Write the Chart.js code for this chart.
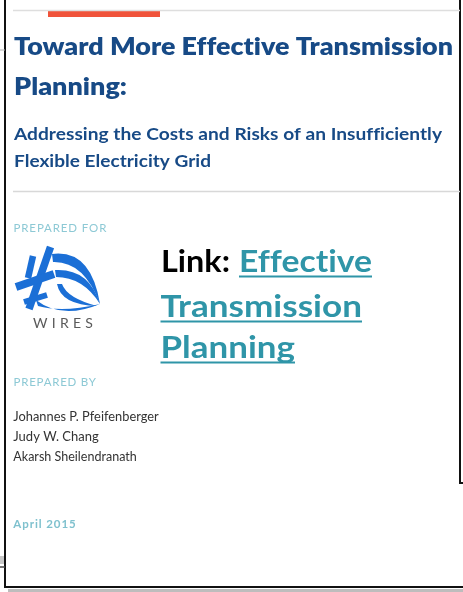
<!DOCTYPE html>
<html>
<head>
<meta charset="utf-8">
<script src="https://cdn.jsdelivr.net/npm/chart.js@4.4.1/dist/chart.umd.min.js"></script>
<style>
  html, body { margin: 0; padding: 0; background: #fff; }
  canvas { display: block; }
</style>
</head>
<body>
<canvas id="cover" width="463" height="592"></canvas>
<script>
// text content of the cover
const titleLines = ["Toward More Effective Transmission", "Planning:"];
const subtitleLines = ["Addressing the Costs and Risks of an Insufficiently", "Flexible Electricity Grid"];
const preparedFor = "PREPARED FOR";
const preparedBy = "PREPARED BY";
const clientName = "WIRES";
const linkLabel = "Link:";
const linkLines = ["Effective", "Transmission", "Planning"];
const authors = ["Johannes P. Pfeifenberger", "Judy W. Chang", "Akarsh Sheilendranath"];
const dateLabel = "April 2015";

const BLUE = "#174a86";
const TEAL = "#2f95a8";
const LIGHT_TEAL = "#8dc9d5";

// page frame + rules, as line datasets on a page-sized linear scale
const seg = (x1, y1, x2, y2) => [{ x: x1, y: y1 }, { x: x2, y: y2 }];
const frameSets = [
  { data: seg(13, 10.5, 460, 10.5), borderColor: "#dedede", borderWidth: 1.5 },
  { data: seg(48, 14, 160, 14), borderColor: "#f0533a", borderWidth: 6 },
  { data: seg(13, 191.5, 460, 191.5), borderColor: "#d8d8d8", borderWidth: 1.5 },
  { data: seg(0, 50, 5, 50), borderColor: "#b0b0b0", borderWidth: 1 },
  { data: seg(0, 567, 5, 567), borderColor: "#444", borderWidth: 1.5 },
  { data: seg(0, 560, 4, 560), borderColor: "#c8c8c8", borderWidth: 8 },
  { data: seg(8, 590.5, 463, 590.5), borderColor: "#bdbdbd", borderWidth: 3 },
  { data: [{ x: 5, y: 0 }, { x: 5, y: 587 }, { x: 463, y: 587 }], borderColor: "#111", borderWidth: 2 },
  { data: [{ x: 460, y: 0 }, { x: 460, y: 483 }, { x: 463, y: 483 }], borderColor: "#111", borderWidth: 2 },
].map((d) => ({ ...d, type: "line", pointRadius: 0, fill: false, tension: 0 }));

function fitText(ctx, sx, sy, text, x, y, width, font, color, mode) {
  ctx.save();
  ctx.font = font;
  ctx.fillStyle = color;
  ctx.textBaseline = "alphabetic";
  ctx.letterSpacing = "0.01px"; // also keeps Lato's fi/ti ligatures off
  let w = ctx.measureText(text).width;
  const px = sx.getPixelForValue(x);
  const py = sy.getPixelForValue(y);
  if (mode === "space") {
    const sp = (width - w) / Math.max(1, text.length - 1);
    ctx.letterSpacing = sp + "px";
    ctx.fillText(text, px, py);
  } else {
    ctx.translate(px, py);
    ctx.scale(width / w, 1);
    ctx.fillText(text, 0, 0);
  }
  ctx.restore();
}

function drawLogo(ctx, sx, sy) {
  const P = (x, y) => [sx.getPixelForValue(x), sy.getPixelForValue(y)];
  ctx.save();
  ctx.strokeStyle = "#1b6fd6";
  ctx.fillStyle = "#1b6fd6";
  const stroke = (w, a, b) => {
    ctx.lineWidth = w;
    ctx.beginPath();
    ctx.moveTo(...P(...a));
    ctx.lineTo(...P(...b));
    ctx.stroke();
  };
  stroke(7.5, [50.5, 247], [29, 309]);
  stroke(6.5, [33, 256], [28, 278]);
  stroke(8, [16, 287], [54, 274]);
  stroke(6, [24, 302], [47, 295]);
  // swooshes: crescents of two quadratic curves
  const crescent = (a, c1, b, c2, d) => {
    ctx.beginPath();
    ctx.moveTo(...P(...a));
    ctx.quadraticCurveTo(...P(...c1), ...P(...b));
    ctx.quadraticCurveTo(...P(...c2), ...P(...d));
    ctx.closePath();
    ctx.fill();
  };
  crescent([52, 254], [91, 249], [100, 304], [84, 261], [53, 262]);
  crescent([55, 270], [89, 268], [100, 304], [83, 277], [56, 277]);
  crescent([57, 284], [61, 305], [97, 306], [67, 298], [62, 284]);
  crescent([36, 300], [62, 320], [100, 304], [62, 313], [38, 306]);
  ctx.restore();
}

const coverText = {
  id: "coverText",
  afterDatasetsDraw(chart) {
    const { ctx } = chart;
    const sx = chart.scales.x, sy = chart.scales.y;
    const sans = "Lato, 'Open Sans', sans-serif";

    fitText(ctx, sx, sy, titleLines[0], 14, 55, 439, "800 25px " + sans, BLUE);
    fitText(ctx, sx, sy, titleLines[1], 14, 95, 113, "800 25px " + sans, BLUE);
    fitText(ctx, sx, sy, subtitleLines[0], 14, 139.5, 428, "bold 17px " + sans, BLUE);
    fitText(ctx, sx, sy, subtitleLines[1], 14, 166.5, 197, "bold 17px " + sans, BLUE);

    fitText(ctx, sx, sy, preparedFor, 13.5, 231.5, 93, "11.5px " + sans, LIGHT_TEAL, "space");
    fitText(ctx, sx, sy, preparedBy, 13.5, 386, 82.5, "11.5px " + sans, LIGHT_TEAL, "space");

    drawLogo(ctx, sx, sy);
    fitText(ctx, sx, sy, clientName, 33, 327.5, 60, "14px " + sans, "#5a5a5a", "space");

    // link block
    const linkFont = "bold 30px " + sans;
    fitText(ctx, sx, sy, linkLabel, 161, 272, 69, linkFont, "#000");
    const linkPos = [
      { x: 239, y: 272, w: 133 },
      { x: 160.5, y: 317, w: 201.5 },
      { x: 160.5, y: 358, w: 134.5 },
    ];
    linkLines.forEach((t, i) => {
      const p = linkPos[i];
      fitText(ctx, sx, sy, t, p.x, p.y, p.w, linkFont, TEAL);
      ctx.fillStyle = TEAL;
      ctx.fillRect(sx.getPixelForValue(p.x), sy.getPixelForValue(p.y + 3.5), p.w, 2);
    });

    const authorW = [145.5, 85.5, 123.5];
    const authorY = [420.7, 441.2, 461];
    authors.forEach((a, i) => {
      fitText(ctx, sx, sy, a, 13.3, authorY[i], authorW[i], "12.5px " + sans, "#333");
    });

    fitText(ctx, sx, sy, dateLabel, 13.3, 527.5, 62.5, "bold 11.5px " + sans, "#7fc1ce", "space");
  },
};

new Chart(document.getElementById("cover"), {
  type: "scatter",
  data: { datasets: frameSets },
  options: {
    responsive: false,
    animation: false,
    events: [],
    layout: { padding: 0 },
    plugins: { legend: { display: false }, tooltip: { enabled: false } },
    scales: {
      x: { type: "linear", min: 0, max: 463, display: false },
      y: { type: "linear", min: 0, max: 592, reverse: true, display: false },
    },
  },
  plugins: [coverText],
});
</script>
</body>
</html>
